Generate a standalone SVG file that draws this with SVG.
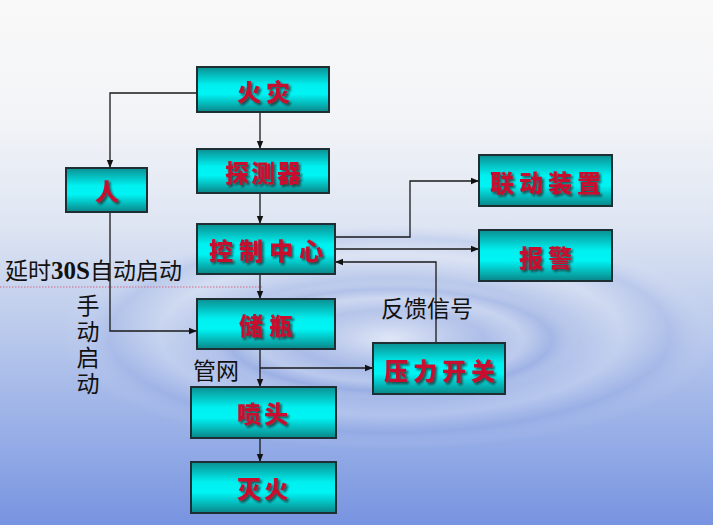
<svg xmlns="http://www.w3.org/2000/svg" width="713" height="525" viewBox="0 0 713 525">
<defs>
<linearGradient id="bg" x1="0" y1="0" x2="0" y2="1">
<stop offset="0" stop-color="#f9f9f9"/>
<stop offset="0.22" stop-color="#f3f4f7"/>
<stop offset="0.42" stop-color="#dfe6f3"/>
<stop offset="0.62" stop-color="#bccbec"/>
<stop offset="0.85" stop-color="#93abe6"/>
<stop offset="1" stop-color="#7893e0"/>
</linearGradient>
<radialGradient id="rip" cx="0.5" cy="0.5" r="0.5">
<stop offset="0" stop-color="#ffffff" stop-opacity="0.35"/>
<stop offset="0.5" stop-color="#8aa0dd" stop-opacity="0.25"/>
<stop offset="0.7" stop-color="#ffffff" stop-opacity="0.2"/>
<stop offset="0.85" stop-color="#7f97dc" stop-opacity="0.2"/>
<stop offset="1" stop-color="#ffffff" stop-opacity="0"/>
</radialGradient>
<linearGradient id="box" x1="0" y1="0" x2="0" y2="1">
<stop offset="0" stop-color="#0b8f92"/>
<stop offset="0.4" stop-color="#00f0f0"/>
<stop offset="0.6" stop-color="#00f4f4"/>
<stop offset="1" stop-color="#0a8588"/>
</linearGradient>
<filter id="ds" x="-10%" y="-20%" width="130%" height="150%">
<feDropShadow dx="2" dy="2" stdDeviation="0.8" flood-color="#2a0a0a" flood-opacity="0.7"/>
</filter>
<marker id="ah" viewBox="0 0 10 10" refX="10" refY="5" markerWidth="8" markerHeight="8" markerUnits="userSpaceOnUse" orient="auto">
<path d="M0,1 L10,5 L0,9 z" fill="#111"/>
</marker>
<style>
.n rect{fill:url(#box);stroke:#1d2f33;stroke-width:2}
.n text{font-family:"Noto Sans CJK SC","Noto Sans CJK JP",sans-serif;font-weight:900;font-size:24px;fill:#c8102e;text-anchor:middle;dominant-baseline:central;filter:url(#ds)}
.c path{fill:none;stroke:#1a1a1a;stroke-width:1.3}
.t{font-family:"Noto Sans CJK SC",sans-serif;font-size:23px;fill:#111}
</style>
</defs>
<rect width="713" height="525" fill="url(#bg)"/>
<ellipse cx="390" cy="335" rx="330" ry="115" fill="url(#rip)"/>
<ellipse cx="390" cy="340" rx="190" ry="60" fill="url(#rip)"/>
<line x1="0" y1="287" x2="262" y2="287" stroke="#d36b8a" stroke-width="1.2" stroke-dasharray="1.5,1.5"/>

<g class="c">
<path d="M197,93 H110 V168" marker-end="url(#ah)"/>
<path d="M260,112 V149" marker-end="url(#ah)"/>
<path d="M260,193 V224" marker-end="url(#ah)"/>
<path d="M110,212 V331 H197" marker-end="url(#ah)"/>
<path d="M260,274 V299" marker-end="url(#ah)"/>
<path d="M260,349 V387" marker-end="url(#ah)"/>
<path d="M260,368 H373" marker-end="url(#ah)"/>
<path d="M260,438 V462" marker-end="url(#ah)"/>
<path d="M335,237 H410 V181 H479" marker-end="url(#ah)"/>
<path d="M335,249 H479" marker-end="url(#ah)"/>
<path d="M436,343 V262 H335" marker-end="url(#ah)"/>
</g>

<g id="huozai" class="n"><rect x="197" y="67" width="132" height="45"/><text x="266" y="90" letter-spacing="5">火灾</text></g>
<g id="tanceqi" class="n"><rect x="197" y="149" width="132" height="44"/><text x="264" y="171" letter-spacing="2">探测器</text></g>
<g id="ren" class="n"><rect x="66" y="168" width="81" height="44"/><text x="107" y="190">人</text></g>
<g id="kongzhi" class="n"><rect x="197" y="224" width="138" height="50"/><text x="269" y="249" letter-spacing="6">控制中心</text></g>
<g id="chuping" class="n"><rect x="197" y="299" width="138" height="50"/><text x="269" y="324" letter-spacing="6">储瓶</text></g>
<g id="pentou" class="n"><rect x="191" y="387" width="145" height="51"/><text x="264" y="412" letter-spacing="3">喷头</text></g>
<g id="miehuo" class="n"><rect x="191" y="462" width="145" height="51"/><text x="264" y="487" letter-spacing="3">灭火</text></g>
<g id="liandong" class="n"><rect x="479" y="155" width="133" height="51"/><text x="548" y="181" letter-spacing="5">联动装置</text></g>
<g id="baojing" class="n"><rect x="479" y="230" width="133" height="51"/><text x="548" y="256" letter-spacing="5">报警</text></g>
<g id="yali" class="n"><rect x="373" y="343" width="132" height="51"/><text x="442" y="369" letter-spacing="5">压力开关</text></g>

<text class="t" x="5" y="279" font-size="24">延时<tspan font-family="Liberation Serif,serif" font-weight="bold" font-size="25">30S</tspan>自动启动</text>
<text class="t" x="88" y="294" font-size="22" writing-mode="tb" letter-spacing="3">手动启动</text>
<text class="t" x="193" y="379">管网</text>
<text class="t" x="381" y="317" font-size="24">反馈信号</text>
</svg>
